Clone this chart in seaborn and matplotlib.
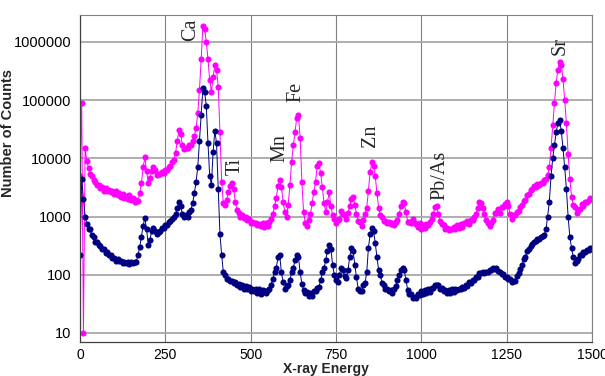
import numpy as np
import pandas as pd
import seaborn as sns
import matplotlib.pyplot as plt
from matplotlib.ticker import FixedLocator, FuncFormatter, NullLocator

#===========================================================================#
#### Spectrum data (channel energy step of 5)
#===========================================================================#
energy = np.arange(0, 1501, 5)

# upper (magenta) spectrum, 10 values per row, row start energy in comment
counts_pink = [
    5000, 90000, 10, 15000, 9000, 6800, 5300, 4900, 4200, 4000,            # 0
    3500, 3500, 3100, 3200, 2800, 3050, 2700, 2850, 2650, 2700,            # 50
    2450, 2700, 2350, 2500, 2200, 2450, 2100, 2250, 2000, 2300,            # 100
    1900, 2050, 1750, 1900, 1850, 2500, 3800, 7000, 10500, 6000,           # 150
    3800, 4600, 6000, 7200, 6300, 5100, 5400, 5300, 5900, 5700,            # 200
    6300, 6300, 7200, 7400, 8600, 9300, 12500, 20000, 31000, 26000,        # 250
    17000, 14500, 15000, 15000, 17000, 17000, 19500, 24000, 33000, 60000,  # 300
    150000, 500000, 1900000, 1700000, 1000000, 500000, 220000, 140000, 250000, 400000,  # 350
    330000, 170000, 28000, 4000, 1700, 1550, 1950, 2600, 3300, 3800,       # 400
    3000, 1800, 1300, 1150, 1000, 1050, 930, 1000, 860, 900,               # 450
    780, 820, 760, 780, 720, 740, 680, 760, 660, 770,                      # 500
    700, 820, 900, 1100, 1500, 2100, 3300, 4200, 3200, 1800,               # 550
    1200, 1000, 1600, 3500, 8700, 17000, 28000, 50000, 55000, 22000,       # 600
    4000, 1200, 780, 700, 880, 1100, 1700, 2600, 4000, 7500,               # 650
    8300, 5500, 3200, 1700, 1200, 1800, 2600, 1500, 1050, 900,             # 700
    760, 880, 920, 1250, 1100, 1050, 920, 1150, 1500, 2000,                # 750
    2200, 1600, 1100, 850, 800, 700, 880, 1100, 1400, 2800,                # 800
    5800, 8500, 7500, 5000, 2500, 1400, 1050, 1000, 850, 840,              # 850
    760, 800, 740, 760, 720, 820, 880, 1100, 1500, 1800,                   # 900
    1700, 1200, 820, 800, 760, 900, 780, 740, 650, 760,                    # 950
    620, 720, 640, 740, 720, 820, 900, 1100, 1450, 1500,                   # 1000
    1100, 850, 740, 720, 620, 630, 590, 620, 600, 660,                     # 1050
    620, 720, 640, 740, 660, 760, 760, 830, 740, 880,                      # 1100
    880, 980, 1100, 1400, 1800, 1700, 1400, 1100, 880, 760,                # 1150
    680, 790, 880, 1150, 1150, 1350, 1150, 1450, 1450, 1650,               # 1200
    1750, 1500, 1100, 920, 1050, 1050, 1200, 1250, 1450, 1550,             # 1250
    1850, 1950, 2300, 2400, 2900, 3000, 3300, 3200, 3600, 3500,            # 1300
    3800, 3800, 4300, 4500, 5200, 7000, 15000, 37000, 90000, 200000,       # 1350
    330000, 450000, 400000, 230000, 100000, 40000, 12000, 4500, 2200, 1600,  # 1400
    1450, 1150, 1300, 1350, 1650, 1500, 1750, 1750, 1950, 2050,            # 1450
    2000,                                                                  # 1500
]

# lower (navy) spectrum
counts_navy = [
    220, 4500, 2000, 1000, 750, 620, 600, 480, 450, 370,                   # 0
    360, 320, 310, 280, 280, 240, 250, 220, 215, 195,                      # 50
    195, 175, 190, 170, 175, 160, 165, 158, 168, 155,                      # 100
    165, 158, 168, 165, 220, 300, 450, 700, 950, 600,                      # 150
    330, 400, 560, 630, 570, 510, 550, 570, 630, 640,                      # 200
    720, 730, 800, 840, 920, 980, 1100, 1400, 1800, 1500,                  # 250
    1100, 1000, 1050, 1000, 1200, 1300, 1700, 2500, 4000, 7000,            # 300
    20000, 56000, 160000, 140000, 80000, 18000, 5000, 3500, 13000, 30000,  # 350
    18000, 3000, 500, 220, 110, 98, 85, 84, 78, 78,                        # 400
    72, 74, 66, 70, 62, 67, 58, 63, 56, 62,                                # 450
    52, 58, 53, 56, 48, 56, 47, 54, 52, 48,                                # 500
    55, 56, 68, 85, 110, 130, 200, 220, 110, 75,                           # 550
    58, 64, 68, 82, 110, 130, 180, 220, 200, 110,                          # 600
    70, 55, 48, 50, 43, 49, 43, 52, 53, 60,                                # 650
    62, 80, 110, 130, 180, 260, 320, 280, 150, 100,                        # 700
    80, 75, 100, 130, 120, 95, 88, 120, 200, 290,                          # 750
    260, 150, 90, 58, 52, 53, 68, 72, 110, 290,                            # 800
    500, 640, 560, 350, 200, 120, 98, 72, 67, 58,                          # 850
    58, 53, 54, 48, 57, 63, 82, 98, 122, 130,                              # 900
    120, 80, 55, 46, 47, 40, 42, 40, 47, 45,                               # 950
    52, 46, 54, 48, 57, 50, 60, 60, 68, 66,                                # 1000
    67, 58, 60, 53, 54, 48, 54, 48, 57, 50,                                # 1050
    57, 55, 58, 57, 61, 59, 67, 65, 74, 72,                                # 1100
    82, 82, 91, 92, 108, 106, 112, 108, 113, 112,                          # 1150
    123, 121, 133, 125, 132, 117, 112, 102, 102, 92,                       # 1200
    92, 85, 84, 75, 77, 78, 97, 107, 128, 145,                             # 1250
    185, 205, 255, 275, 315, 335, 368, 375, 410, 415,                      # 1300
    450, 455, 490, 600, 1000, 1800, 5000, 10000, 17000, 28000,             # 1350
    40000, 45000, 30000, 15000, 7000, 3000, 1000, 450, 290, 200,           # 1400
    160, 175, 185, 220, 220, 245, 245, 265, 270, 290,                      # 1450
    290,                                                                   # 1500
]

df = pd.concat([
    pd.DataFrame({'energy': energy, 'counts': counts_pink, 'sample': 'upper'}),
    pd.DataFrame({'energy': energy, 'counts': counts_navy, 'sample': 'lower'}),
])

#===========================================================================#
#### Plot
#===========================================================================#
sns.set_style("white")
plt.rcParams['font.family'] = ['Liberation Sans', 'DejaVu Sans']

fig = plt.figure(figsize=(6.05, 3.76), dpi=100)
ax = fig.add_axes([80 / 605, 1 - 342 / 376, 512 / 605, 327 / 376])

sns.lineplot(data=df, x='energy', y='counts', hue='sample',
             hue_order=['upper', 'lower'],
             palette={'upper': '#FF00FF', 'lower': '#000080'},
             estimator=None, sort=False, legend=False,
             marker='o', markersize=4.4, markeredgewidth=0,
             linewidth=0.7, ax=ax)

ax.set_yscale('log')
ax.set_xlim(0, 1500)
ax.set_ylim(7.0, 2.9e6)

ax.xaxis.set_major_locator(FixedLocator([0, 250, 500, 750, 1000, 1250, 1500]))
ax.yaxis.set_major_locator(FixedLocator([10, 100, 1000, 10000, 100000, 1000000]))
ax.yaxis.set_minor_locator(NullLocator())
ax.yaxis.set_major_formatter(FuncFormatter(lambda v, p: '%d' % v))

ax.grid(True, axis='y', color='#a8a8a8', linewidth=1.3)
ax.grid(True, axis='x', color='#808080', linewidth=0.8)
ax.set_axisbelow(True)

for side in ['top', 'right']:
    ax.spines[side].set_color('#808080')
    ax.spines[side].set_linewidth(0.8)
for side in ['left', 'bottom']:
    ax.spines[side].set_color('#404040')
    ax.spines[side].set_linewidth(0.9)

ax.tick_params(axis='both', labelsize=10.5, colors='black', direction='out',
               length=4, width=0.8, pad=2)
ax.tick_params(axis='x', labelsize=10, length=3, pad=1)
ax.tick_params(axis='both', color='#404040')

ax.set_xlabel('X-ray Energy', fontsize=10, fontweight='bold', labelpad=0)
ax.set_ylabel('Number of Counts', fontsize=10.5, fontweight='bold')
ax.xaxis.set_label_coords(0.48, -0.061)
ax.yaxis.set_label_coords(-0.127, 0.64)

# element labels over the peaks
peaks = ['Ca', 'Ti', 'Mn', 'Fe', 'Zn', 'Pb/As', 'Sr']
peak_x = [325, 456, 586, 633, 850, 1055, 1406]
peak_y = [1.6e6, 7400, 15000, 138000, 24000, 5200, 850000]
for name, px, py in zip(peaks, peak_x, peak_y):
    ax.text(px, py, name, rotation=90, ha='center', va='center',
            fontsize=14.5, family=['Liberation Serif', 'DejaVu Serif'])

plt.savefig('out.png', dpi=100)
